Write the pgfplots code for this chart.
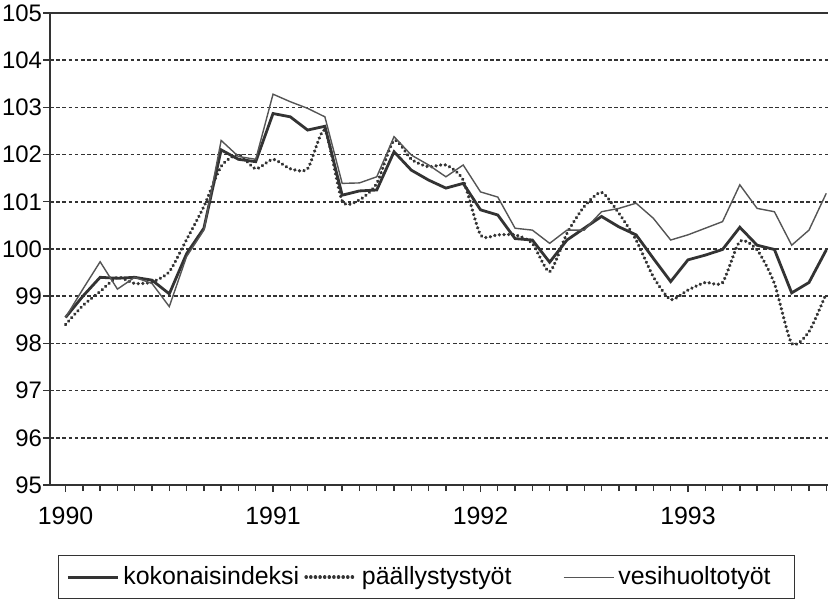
\documentclass[border=0pt]{standalone}
\usepackage{fontspec}
\setmainfont{Liberation Sans}
\usepackage{pgfplots}
\pgfplotsset{compat=1.18}
\usepackage{pgfplotstable}
\pgfplotstableread{
i koko paal vesi
0 98.55 98.40 98.55
1 99.00 98.80 99.15
2 99.40 99.10 99.73
3 99.38 99.40 99.15
4 99.40 99.27 99.40
5 99.34 99.30 99.27
6 99.05 99.52 98.78
7 99.90 100.20 99.84
8 100.44 100.90 100.40
9 102.10 101.75 102.30
10 101.90 102.00 101.96
11 101.85 101.70 101.90
12 102.87 101.90 103.28
13 102.80 101.70 103.12
14 102.52 101.70 102.98
15 102.60 102.52 102.80
16 101.14 101.02 101.39
17 101.23 101.04 101.40
18 101.25 101.39 101.53
19 102.06 102.30 102.38
20 101.67 101.90 101.99
21 101.46 101.74 101.78
22 101.29 101.78 101.53
23 101.39 101.46 101.78
24 100.83 100.30 101.21
25 100.72 100.30 101.10
26 100.22 100.30 100.44
27 100.19 100.12 100.40
28 99.72 99.52 100.12
29 100.19 100.33 100.40
30 100.44 100.90 100.40
31 100.69 101.20 100.79
32 100.47 100.76 100.86
33 100.30 100.19 100.97
34 99.80 99.41 100.65
35 99.31 98.93 100.19
36 99.77 99.13 100.30
37 99.87 99.29 100.44
38 99.99 99.29 100.58
39 100.46 100.16 101.36
40 100.08 99.98 100.86
41 99.99 99.27 100.79
42 99.07 98.00 100.08
43 99.29 98.25 100.40
44 99.98 99.06 101.18
}\data
\definecolor{ink}{HTML}{333333}
\definecolor{inkb}{HTML}{555555}
\begin{document}
\begin{tikzpicture}
\begin{axis}[
  scale only axis, width=389bp, height=236bp,
  xmin=-0.9, xmax=44.1, ymin=95, ymax=105,
  ytick={95,...,105},
  xtick={0,12,24,36}, xticklabels={1990,1991,1992,1993},
  minor xtick={0,...,44},
  tick align=outside,
  major tick length=3.5bp, minor tick length=3bp,
  axis x line*=bottom, axis y line*=left,
  axis line style={ink, line width=0.9bp},
  ymajorgrids,
  grid style={ink, line width=0.75bp, dash pattern=on 1.8bp off 1.3bp},
  tick style={ink, line width=0.7bp},
  /pgf/number format/assume math mode=true,
  yticklabel style={font=\fontsize{12}{14}\selectfont, inner sep=0.3bp},
  xticklabel style={font=\fontsize{12.5}{14}\selectfont, yshift=-4bp},
  clip=false,
  legend columns=3,
  legend style={at={(0.5,0)}, anchor=north, xshift=-6.25bp, yshift=-35bp,
    draw=ink, line width=0.7bp, inner xsep=4bp, inner ysep=3.5bp,
    nodes={inner xsep=2bp},
    font=\fontsize{12.5}{14}\selectfont,
    /tikz/every even column/.append style={column sep=0bp}},
  legend image code/.code={\draw[#1] (0bp,0bp) -- (25bp,0bp);},
]
\addplot[ink, line width=1.4bp] table[x=i, y=koko] {\data};
\addlegendentry{\makebox[88.5bp][l]{kokonaisindeksi}}
\addplot[ink, line width=1.8bp, line cap=round, dash pattern=on 0.01bp off 2.3bp, smooth, tension=0.4] table[x=i, y=paal] {\data};
\addlegendentry{\makebox[98.5bp][l]{päällystystyöt}}
\addplot[inkb, line width=0.7bp] table[x=i, y=vesi] {\data};
\addlegendentry{\makebox[82bp][l]{vesihuoltotyöt}}
\draw[ink, line width=0.9bp] (rel axis cs:0,1) -- (rel axis cs:1,1);
\coordinate (A) at (rel axis cs:0,0);
\coordinate (B) at (rel axis cs:1,1);
\end{axis}
\pgfresetboundingbox
\path ([xshift=-25bp,yshift=-61bp]A) rectangle ([yshift=6.5bp]B);
\end{tikzpicture}
\end{document}
